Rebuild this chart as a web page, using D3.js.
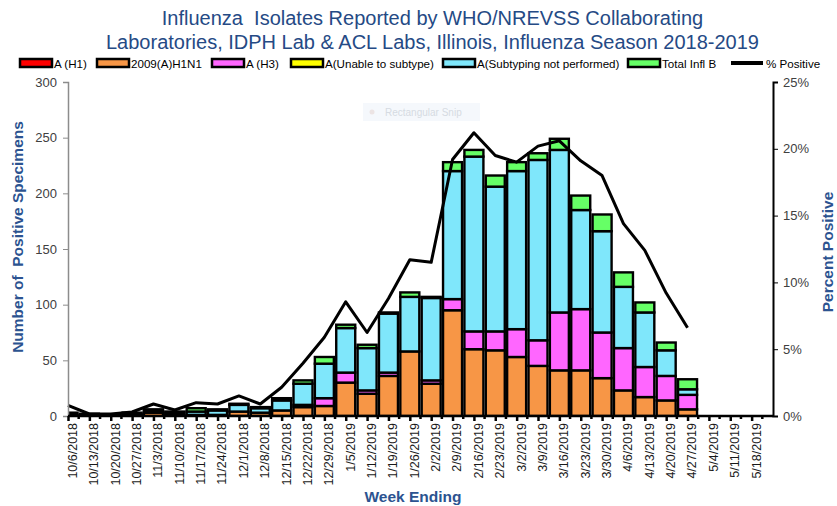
<!DOCTYPE html>
<html><head><meta charset="utf-8">
<script src="https://cdn.jsdelivr.net/npm/d3@7"></script>
<style>
body{margin:0;background:#fff;}
svg{display:block;font-family:"Liberation Sans",Arial,sans-serif;}
</style></head>
<body><svg id="c" width="837" height="506"></svg>
<script>
const weeks = ["10/6/2018","10/13/2018","10/20/2018","10/27/2018","11/3/2018","11/10/2018","11/17/2018","11/24/2018","12/1/2018","12/8/2018","12/15/2018","12/22/2018","12/29/2018","1/5/2019","1/12/2019","1/19/2019","1/26/2019","2/2/2019","2/9/2019","2/16/2019","2/23/2019","3/2/2019","3/9/2019","3/16/2019","3/23/2019","3/30/2019","4/6/2019","4/13/2019","4/20/2019","4/27/2019","5/4/2019","5/11/2019","5/18/2019"];
const aH1          = [0,0,0,0,0,0,0,0,0,0,0,0,0,0,0,0,0,0,0,0,0,0,0,0,0,0,0,0,0,0,0,0,0];
const aH1N1        = [1,0,0,1,3,1,1,1,4,3,5,8,9,30,20,36,58,29,95,60,59,53,45,41,41,34,23,17,14,6,0,0,0];
const aH3          = [0,0,0,0,0,0,0,0,0,0,0,2,7,9,3,3,0,3,10,16,17,25,23,52,55,41,38,27,22,13,0,0,0];
const aUnable      = [0,0,0,0,0,0,0,0,0,0,0,0,0,0,0,0,0,0,0,0,0,0,0,0,0,0,0,0,0,0,0,0,0];
const aNotPerformed= [2,1,1,1,2,2,3,4,6,4,9,19,31,40,38,53,49,74,115,157,130,142,162,146,89,91,55,49,23,5,0,0,0];
const infB         = [0,1,0,1,1,1,3,1,1,1,2,3,6,3,3,1,4,1,8,6,10,8,6,10,13,15,13,9,7,9,0,0,0];
const pctPositive  = [0.8,0.15,0.15,0.3,0.9,0.45,1.0,0.9,1.5,0.9,2.15,3.95,5.9,8.55,6.25,8.8,11.7,11.5,19.2,21.2,19.5,19.0,20.2,20.6,19.1,18.0,14.4,12.4,9.2,6.6];
const countTicks = [0,50,100,150,200,250,300];
const pctTicks = [0,5,10,15,20,25];
const seriesNames = ["A (H1)","2009(A)H1N1","A (H3)","A(Unable to subtype)","A(Subtyping not performed)","Total Infl B"];
const seriesColors = ["#FF0000","#F79646","#FF66FF","#FFFF00","#7FE7FB","#66FF66"];
const seriesData = [aH1,aH1N1,aH3,aUnable,aNotPerformed,infB];

const svg = d3.select("#c");
const L=68, R=773, T=82, B=416;
const step = (R-L)/33;
const x = d3.scalePoint().domain(weeks).range([L, L+step*(weeks.length-1)]);
const y = d3.scaleLinear().domain([0,300]).range([B,T]);
const y2 = d3.scaleLinear().domain([0,25]).range([B,T]);

// title
const titleColor="#254a85", axisTitleColor="#2c5390";
svg.append("text").attr("x",432.5).attr("y",25).attr("text-anchor","middle")
  .attr("font-size",20).attr("fill",titleColor).attr("xml:space","preserve")
  .text("Influenza  Isolates Reported by WHO/NREVSS Collaborating");
svg.append("text").attr("x",432.5).attr("y",49).attr("text-anchor","middle")
  .attr("font-size",20).attr("fill",titleColor)
  .text("Laboratories, IDPH Lab & ACL Labs, Illinois, Influenza Season 2018-2019");

// legend
const legX = [20,97,212,291,443,628];
seriesNames.forEach((n,i)=>{
  svg.append("rect").attr("x",legX[i]).attr("y",59).attr("width",32).attr("height",8)
    .attr("fill",seriesColors[i]).attr("stroke","#000").attr("stroke-width",2.5);
  svg.append("text").attr("x",legX[i]+34).attr("y",67.5).attr("font-size",11.6).attr("fill","#000").text(n);
});
svg.append("line").attr("x1",731).attr("x2",763).attr("y1",63).attr("y2",63).attr("stroke","#000").attr("stroke-width",4);
svg.append("text").attr("x",766).attr("y",67.5).attr("font-size",11.6).attr("fill","#000").text("% Positive");

// snip artifact
svg.append("rect").attr("x",363).attr("y",103).attr("width",117).attr("height",18).attr("fill","#f5f8fc");
svg.append("circle").attr("cx",372).attr("cy",112).attr("r",2.5).attr("fill","#ece4e4");
svg.append("text").attr("x",385).attr("y",116).attr("font-size",10).attr("fill","#d6dbe2").text("Rectangular Snip");

// clip
svg.append("defs").append("clipPath").attr("id","pc").append("rect")
  .attr("x",L).attr("y",T-5).attr("width",R-L).attr("height",B-T+5);

// bars
const keys = seriesNames;
const rows = weeks.map((w,i)=>{const o={week:w}; keys.forEach((k,j)=>o[k]=seriesData[j][i]); return o;});
const stack = d3.stack().keys(keys)(rows);
const bw = 19;
const g = svg.append("g").attr("clip-path","url(#pc)");
stack.forEach((s,si)=>{
  g.selectAll(null).data(s.filter(d=>d[1]-d[0]>0)).join("rect")
    .attr("x",d=>x(d.data.week)-bw/2).attr("width",bw)
    .attr("y",d=>y(d[1])).attr("height",d=>y(d[0])-y(d[1]))
    .attr("fill",seriesColors[si]).attr("stroke","#000").attr("stroke-width",2.4);
});

// line
const line = d3.line().x((d,i)=>x(weeks[i])).y(d=>y2(d));
svg.append("path").datum(pctPositive).attr("d",line).attr("fill","none")
  .attr("stroke","#000").attr("stroke-width",3).attr("stroke-linejoin","round");

// left axis
const la = svg.append("g").attr("transform",`translate(${L},0)`)
  .call(d3.axisLeft(y).tickValues(countTicks).tickSize(5).tickPadding(6));
la.select(".domain").attr("stroke","#8c8c8c").attr("stroke-width",1.5);
la.selectAll(".tick line").attr("stroke","#8c8c8c");
la.selectAll("text").attr("font-size",13).attr("fill","#404040").attr("font-family","Liberation Sans, Arial");

// right axis
const ra = svg.append("g").attr("transform",`translate(${R},0)`)
  .call(d3.axisRight(y2).tickValues(pctTicks).tickSize(5).tickPadding(5).tickFormat(d=>d+"%"));
ra.select(".domain").attr("stroke","#000").attr("stroke-width",2);
ra.selectAll(".tick line").attr("stroke","#000");
ra.selectAll("text").attr("font-size",13).attr("fill","#404040").attr("font-family","Liberation Sans, Arial");

// bottom axis
const ba = svg.append("g").attr("transform",`translate(0,${B})`)
  .call(d3.axisBottom(x).tickSize(5).tickPadding(4));
ba.select(".domain").attr("d",`M${L},0H${R}`).attr("stroke","#000").attr("stroke-width",2.5);
ba.selectAll(".tick line").attr("stroke","#000").attr("stroke-width",2.5);
ba.selectAll("text").attr("font-size",12.5).attr("fill","#1a1a1a").attr("font-family","Liberation Sans, Arial")
  .attr("text-anchor","end").attr("transform","translate(4,3) rotate(-90)")
  .attr("dy","0.35em").attr("x",-4).attr("y",0);
// minor ticks
ba.selectAll(".minor").data(weeks).join("line").attr("class","minor")
  .attr("x1",w=>x(w)+step/2).attr("x2",w=>x(w)+step/2).attr("y1",0).attr("y2",3)
  .attr("stroke","#000").attr("stroke-width",2.5);

// axis titles
svg.append("text").attr("transform","translate(23,237) rotate(-90)").attr("text-anchor","middle")
  .attr("font-size",15.5).attr("font-weight","bold").attr("fill",axisTitleColor).attr("xml:space","preserve")
  .text("Number of  Positive Specimens");
svg.append("text").attr("transform","translate(833,252) rotate(-90)").attr("text-anchor","middle")
  .attr("font-size",15.5).attr("font-weight","bold").attr("fill",axisTitleColor)
  .text("Percent Positive");
svg.append("text").attr("x",413).attr("y",502).attr("text-anchor","middle")
  .attr("font-size",15.5).attr("font-weight","bold").attr("fill",axisTitleColor)
  .text("Week Ending");
</script></body></html>
